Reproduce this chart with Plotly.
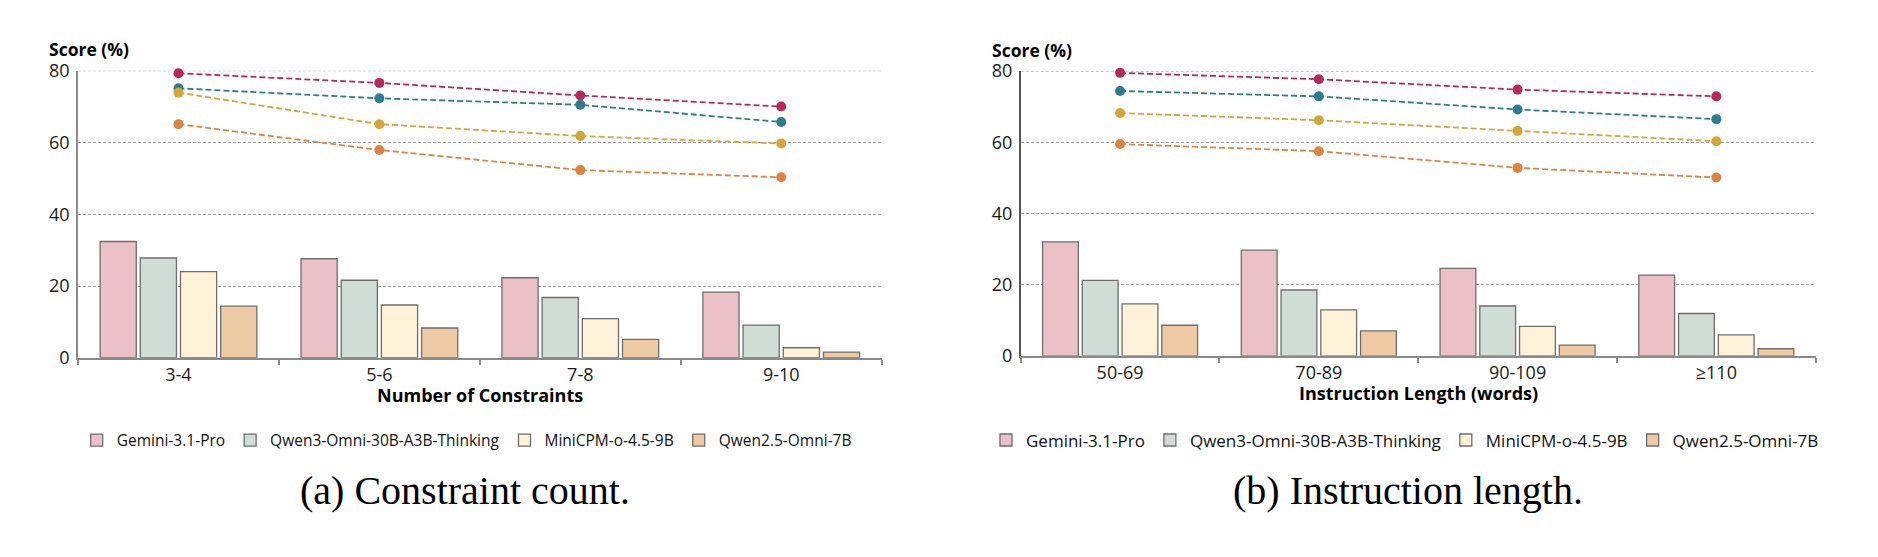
import plotly.graph_objects as go

models = ["Gemini-3.1-Pro", "Qwen3-Omni-30B-A3B-Thinking", "MiniCPM-o-4.5-9B", "Qwen2.5-Omni-7B"]
constraint_cats = ["3-4", "5-6", "7-8", "9-10"]
length_cats = ["50-69", "70-89", "90-109", "≥110"]

# (a) Constraint count -- bars
gemini_c_bar = [32.4, 27.6, 22.3, 18.3]
qwen3_c_bar = [27.8, 21.6, 16.8, 9.1]
minicpm_c_bar = [24.0, 14.7, 10.9, 2.8]
qwen25_c_bar = [14.4, 8.3, 5.1, 1.6]
# (a) Constraint count -- lines
gemini_c_line = [79.3, 76.6, 73.1, 70.0]
qwen3_c_line = [75.1, 72.3, 70.5, 65.7]
minicpm_c_line = [73.9, 65.1, 61.8, 59.7]
qwen25_c_line = [65.1, 57.9, 52.3, 50.3]

# (b) Instruction length -- bars
gemini_l_bar = [32.0, 29.7, 24.6, 22.7]
qwen3_l_bar = [21.2, 18.5, 14.0, 11.9]
minicpm_l_bar = [14.6, 12.9, 8.3, 5.9]
qwen25_l_bar = [8.6, 7.0, 3.0, 2.0]
# (b) Instruction length -- lines
gemini_l_line = [79.5, 77.7, 74.8, 72.9]
qwen3_l_line = [74.4, 72.9, 69.2, 66.5]
minicpm_l_line = [68.2, 66.2, 63.2, 60.3]
qwen25_l_line = [59.5, 57.5, 52.8, 50.1]

y_ticks = [0, 20, 40, 60, 80]

bar_colors = ["#EBC1C7", "#CFDDD5", "#FEF3D8", "#EDCAA4"]
line_colors = ["#B52A5B", "#2F7B91", "#D2A63A", "#DC8441"]

W, H = 1878, 557
SANS = "Open Sans, Noto Sans, sans-serif"
XTICK_FONT = dict(family=SANS, size=18, color="#1a1a1a")
YTICK_FONT = dict(family=SANS, size=18, color="#1a1a1a")
AXIS_COLOR = "#8a8a8a"
GRID_COLOR = "#9c9c9c"
GRID_DASH = "3px,2px"

fig = go.Figure()

panels = [
    (constraint_cats, [gemini_c_bar, qwen3_c_bar, minicpm_c_bar, qwen25_c_bar],
     [gemini_c_line, qwen3_c_line, minicpm_c_line, qwen25_c_line], "x", "y", "legend"),
    (length_cats, [gemini_l_bar, qwen3_l_bar, minicpm_l_bar, qwen25_l_bar],
     [gemini_l_line, qwen3_l_line, minicpm_l_line, qwen25_l_line], "x2", "y2", "legend2"),
]

for cats, bars, lines, xa, ya, lg in panels:
    for name, vals, col in zip(models, bars, bar_colors):
        fig.add_trace(go.Bar(
            x=cats, y=vals, name=name, xaxis=xa, yaxis=ya, legend=lg,
            marker=dict(color=col, line=dict(color="#6e6e6e", width=1.3)),
            hoverinfo="skip",
        ))
    for name, vals, col in zip(models, lines, line_colors):
        fig.add_trace(go.Scatter(
            x=cats, y=vals, name=name, xaxis=xa, yaxis=ya, showlegend=False,
            mode="lines+markers",
            line=dict(color=col, width=1.8, dash="6px,3px"),
            marker=dict(color=col, size=10),
            cliponaxis=False,
        ))

def xaxis_cfg(domain, anchor):
    return dict(
        domain=domain, anchor=anchor, type="category", showline=True, linecolor=AXIS_COLOR,
        linewidth=1.5, ticks="outside", tickson="boundaries", ticklen=5, tickcolor=AXIS_COLOR,
        tickwidth=1.5, tickfont=XTICK_FONT, showgrid=False, zeroline=False, fixedrange=True,
    )

def yaxis_cfg(y0px, y80px, anchor, linecolor):
    return dict(
        domain=[(H - y0px) / H, (H - y80px) / H], anchor=anchor, range=[0, 80],
        tickvals=y_ticks, showline=True, linecolor=linecolor, linewidth=1.5, ticks="",
        tickfont=YTICK_FONT, showgrid=True, gridcolor=GRID_COLOR, gridwidth=1,
        griddash=GRID_DASH, zeroline=False, fixedrange=True, ticklabelstandoff=3,
    )

fig.update_layout(
    width=W, height=H,
    margin=dict(l=0, r=0, t=0, b=0),
    paper_bgcolor="white", plot_bgcolor="white",
    barmode="group", bargap=0.2, bargroupgap=0.1,
    xaxis=xaxis_cfg([78 / W, 881.7 / W], "y"),
    yaxis=yaxis_cfg(360.3, 60.3, "x", "#8c8c8c"),
    xaxis2=xaxis_cfg([1020.7 / W, 1815.7 / W], "y2"),
    yaxis2=yaxis_cfg(358.3, 60.7, "x2", "#555555"),
    legend=dict(
        orientation="h", x=466.7 / W, xanchor="center", y=(H - 446.7) / H, yanchor="middle",
        font=dict(family=SANS, size=15.5, color="#111"),
        itemwidth=30, bgcolor="rgba(0,0,0,0)",
    ),
    legend2=dict(
        orientation="h", x=1405 / W, xanchor="center", y=(H - 446.7) / H, yanchor="middle",
        font=dict(family=SANS, size=17, color="#111"),
        itemwidth=30, bgcolor="rgba(0,0,0,0)",
    ),
    showlegend=True,
)

# top gridline at the range edge (y = 80), which the axis grid skips at the boundary
shapes = []
for xa, ya in (("x", "y"), ("x2", "y2")):
    shapes.append(dict(
        type="line", xref=f"{xa} domain", yref=ya, x0=0, x1=1, y0=y_ticks[-1], y1=y_ticks[-1],
        line=dict(color=GRID_COLOR, width=1, dash=GRID_DASH), layer="below",
    ))
fig.update_layout(shapes=shapes)

annots = [
    dict(text="<b>Score (%)</b>", x=47 / W, y=(H - 38) / H, xanchor="left", yanchor="middle",
         font=dict(family=SANS, size=17.5, color="#000")),
    dict(text="<b>Score (%)</b>", x=990 / W, y=(H - 39) / H, xanchor="left", yanchor="middle",
         font=dict(family=SANS, size=17.5, color="#000")),
    dict(text="<b>Number of Constraints</b>", x=480 / W, y=(H - 399) / H, xanchor="center", yanchor="middle",
         font=dict(family=SANS, size=18, color="#000")),
    dict(text="<b>Instruction Length (words)</b>", x=1418 / W, y=(H - 397) / H, xanchor="center", yanchor="middle",
         font=dict(family=SANS, size=18, color="#000")),
    dict(text="(a) Constraint count.", x=465.3 / W, y=(H - 499) / H, xanchor="center", yanchor="middle",
         font=dict(family="Liberation Serif, serif", size=40, color="#000")),
    dict(text="(b) Instruction length.", x=1408 / W, y=(H - 499) / H, xanchor="center", yanchor="middle",
         font=dict(family="Liberation Serif, serif", size=40, color="#000")),
]
for a in annots:
    a.update(xref="paper", yref="paper", showarrow=False)
fig.update_layout(annotations=annots)

fig.write_html("out.html")
